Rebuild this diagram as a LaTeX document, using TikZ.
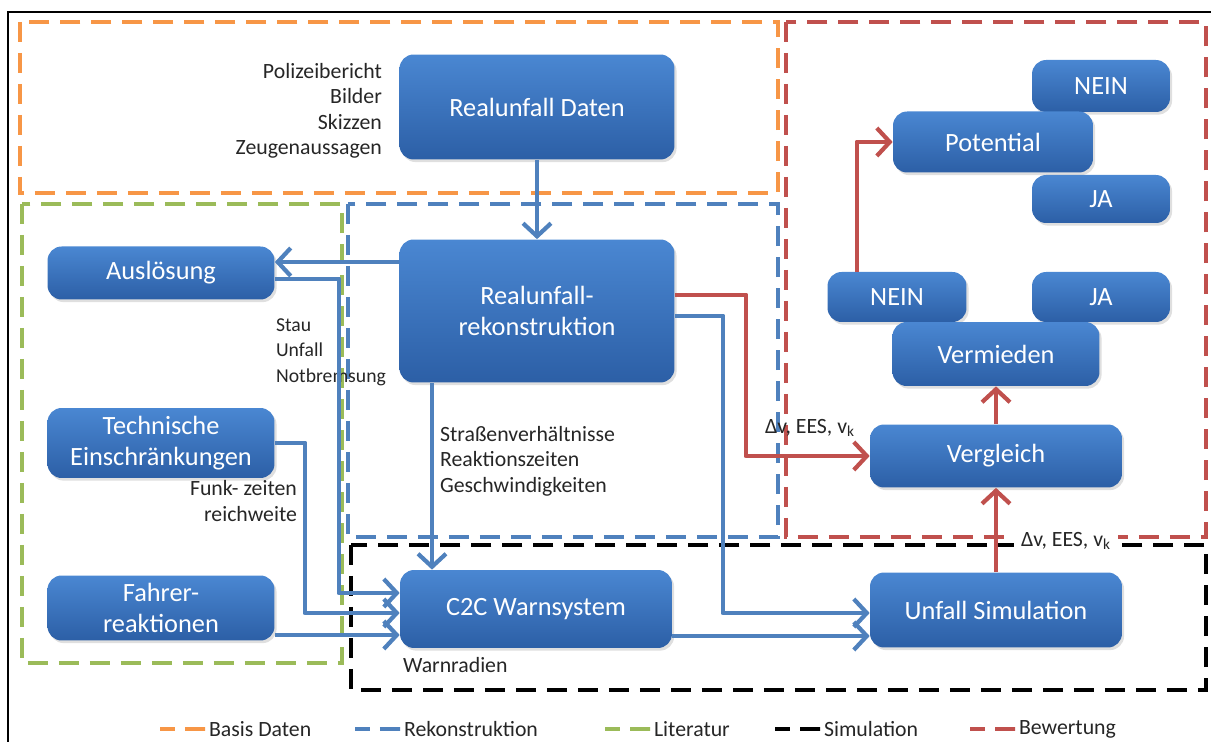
\documentclass[tikz,border=0pt]{standalone}
\usepackage{fontspec}
\setmainfont{Carlito}
\usetikzlibrary{arrows.meta,shadows}
\definecolor{boxtop}{HTML}{4A87D2}
\definecolor{boxbot}{HTML}{2C5FA6}
\definecolor{linblue}{HTML}{4F81BD}
\definecolor{linred}{HTML}{C0504D}
\definecolor{basisor}{HTML}{F79646}
\definecolor{litgreen}{HTML}{9BBB59}

\begin{document}
\begin{tikzpicture}[x=0.02cm,y=-0.02cm,
  box/.style={rounded corners=8pt, top color=boxtop, bottom color=boxbot, draw=none,
    text=white, align=center, font=\fontsize{15}{18}\selectfont,
    drop shadow={opacity=0.25, shadow xshift=1.2pt, shadow yshift=-1.5pt}},
  lbl/.style={font=\fontsize{12.4}{14.5}\selectfont, text=black!85, inner sep=1pt},
  bluearr/.style={draw=linblue, line width=2.8pt, line join=round,
    -{Straight Barb[length=2.6mm, width=5.6mm, line width=2.4pt]}},
  redarr/.style={draw=linred, line width=2.8pt, line join=round,
    -{Straight Barb[length=2.6mm, width=5.6mm, line width=2.4pt]}},
  frame/.style={line width=2.2pt, dash pattern=on 0.4cm off 0.22cm},
  legline/.style={line width=2.6pt, dash pattern=on 0.3cm off 0.2cm on 0.4cm off 0cm}]
\useasboundingbox (0,0) rectangle (1211,742);

% Outer frame
\draw[black, line width=0.9pt] (8,742) -- (8,12) -- (1211,12);

% Dashed regions
\draw[frame, basisor] (20,22) rectangle (778,193);
\draw[frame, litgreen] (22,204) rectangle (342,663);
\draw[frame, linblue] (348,204) rectangle (778,537);
\draw[frame, black] (351,545) rectangle (1206,690);
\draw[frame, linred] (786,22) rectangle (1206,537);

% Boxes
\node[box, minimum width=5.5cm, minimum height=2.1cm] (daten) at (537,107) {Realunfall Daten};
\node[box, minimum width=5.5cm, minimum height=2.86cm] (rekon) at (537,311) {Realunfall-\\rekonstruktion};
\node[box, minimum width=4.54cm, minimum height=1.06cm] (ausl) at (161,273) {Auslösung};
\node[box, minimum width=4.54cm, minimum height=1.4cm] (technik) at (161,443) {Technische\\Einschränkungen};
\node[box, minimum width=4.54cm, minimum height=1.3cm] (fahrer) at (161,608) {Fahrer-\\reaktionen};
\node[box, minimum width=5.44cm, minimum height=1.56cm] (warn) at (536,609) {C2C Warnsystem};
\node[box, minimum width=5.04cm, minimum height=1.5cm] (sim) at (996,610) {Unfall Simulation};
\node[box, minimum width=5.04cm, minimum height=1.26cm] (vergl) at (996,456) {Vergleich};
\node[box, minimum width=2.78cm, minimum height=1.0cm] (neinA) at (897,297) {NEIN};
\node[box, minimum width=2.76cm, minimum height=1.0cm] (jaA) at (1101,297) {JA};
\node[box, minimum width=4.14cm, minimum height=1.28cm] (vermieden) at (996,354) {Vermieden};
\node[box, minimum width=2.76cm, minimum height=1.04cm] (neinB) at (1101,86) {NEIN};
\node[box, minimum width=2.76cm, minimum height=0.96cm] (jaB) at (1101,199) {JA};
\node[box, minimum width=4.0cm, minimum height=1.22cm] (potential) at (993,142) {Potential};

% Labels
\node[lbl, anchor=east, align=right] (quellen) at (384,111) {Polizeibericht\\Bilder\\Skizzen\\Zeugenaussagen};
\node[lbl, anchor=west, align=left, font=\fontsize{11.2}{14.5}\selectfont] (ausloeser) at (274,352) {Stau\\Unfall\\Notbremsung};
\node[lbl, anchor=east, align=right] (funk) at (299,501) {Funk- zeiten\\reichweite};
\node[lbl, anchor=west, align=left] (param) at (438,461) {Straßenverhältnisse\\Reaktionszeiten\\Geschwindigkeiten};
\node[lbl, anchor=west] (radien) at (401,665) {Warnradien};
\node[lbl, anchor=west] (deltaA) at (763,428) {Δv, EES, v\textsubscript{k}};
\node[lbl, fill=white, inner sep=4pt] (deltaB) at (1066,541) {Δv, EES, v\textsubscript{k}};

% Blue connectors
\draw[bluearr] (daten.south) -- (rekon.north);
\draw[bluearr] (rekon.west |- 0,262) -- (ausl.east |- 0,262);
\draw[bluearr] (ausl.east |- 0,279) -| (339,593) -- (warn.west |- 0,593);
\draw[bluearr] (technik.east |- 0,443) -| (305,613) -- (warn.west |- 0,613);
\draw[bluearr] (fahrer.east |- 0,635) -- (warn.west |- 0,635);
\draw[bluearr] (rekon.south -| 432,0) -- (warn.north -| 432,0);
\draw[bluearr] (rekon.east |- 0,316) -| (723,613) -- (sim.west |- 0,613);
\draw[bluearr] (warn.east |- 0,636) -- (sim.west |- 0,636);

% Red connectors
\draw[redarr] (rekon.east |- 0,295) -| (746,456) -- (vergl.west);
\draw[redarr] (sim.north) -- (vergl.south);
\draw[redarr] (vergl.north) -- (vermieden.south);
\draw[redarr] (neinA.north -| 857,0) |- (potential.west);

% Legend
\draw[legline, basisor] (160,729) -- (205,729) node[lbl, anchor=west] (legA) {Basis Daten};
\draw[legline, linblue] (355,729) -- (400,729) node[lbl, anchor=west] (legB) {Rekonstruktion};
\draw[legline, litgreen] (605,729) -- (650,729) node[lbl, anchor=west] (legC) {Literatur};
\draw[legline, black] (775,729) -- (820,729) node[lbl, anchor=west] (legD) {Simulation};
\draw[legline, linred] (970,729) -- (1015,729) node[lbl, anchor=west] (legE) {Bewertung};
\end{tikzpicture}
\end{document}
